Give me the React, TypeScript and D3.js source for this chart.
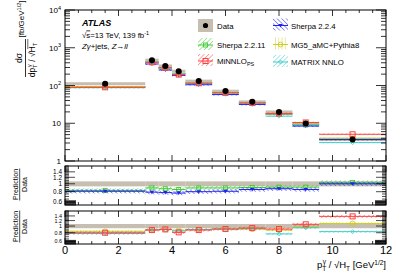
import React from 'react';
import * as d3 from 'd3';

// bin edges in pT^gamma / sqrt(HT)
const binEdges = [0, 3, 3.5, 4, 4.5, 5.5, 6.5, 7.5, 8.5, 9.5, 12];
// measured cross sections [fb/GeV^1/2]
const dataXsec = [112, 470, 330, 240, 131, 71, 37, 20, 9.9, 3.7];
const dataRelErr = [0.07, 0.07, 0.07, 0.07, 0.07, 0.07, 0.07, 0.07, 0.07, 0.07];

// prediction / data ratios
const sherpa2211Ratio = [0.83, 0.89, 0.87, 0.85, 0.89, 0.89, 0.9, 0.91, 0.91, 1.04];
const sherpa224Ratio = [0.81, 0.79, 0.78, 0.77, 0.8, 0.81, 0.85, 0.87, 0.85, 1.0];
const minnloRatio = [0.8, 0.875, 0.895, 0.81, 0.875, 0.905, 0.935, 0.905, 1.06, 1.38];
const mg5Ratio = [0.84, 0.88, 0.89, 0.87, 0.89, 0.9, 0.9, 0.875, 0.98, 1.09];
const matrixRatio = [0.78, 0.88, 0.89, 0.85, 0.89, 0.91, 0.92, 0.77, 0.945, 0.83];

const xTickLabels = [0, 2, 4, 6, 8, 10, 12];
const ratioTickLabels = [0.6, 0.8, 1, 1.2, 1.4];

const font = 'Liberation Sans, Arial, Helvetica, sans-serif';

const series = [
  { key: 'sh2211', ratio: sherpa2211Ratio, err: 0.06, color: '#3fcc33', hatch: 45, marker: 'square', panel: 1 },
  { key: 'sh224', ratio: sherpa224Ratio, err: 0.06, color: '#2020f0', hatch: -45, marker: 'tri', panel: 1 },
  { key: 'mg5', ratio: mg5Ratio, err: 0.04, color: '#cccc22', hatch: 0, marker: 'circle', panel: 2 },
  { key: 'matrix', ratio: matrixRatio, err: 0.04, color: '#44cccc', hatch: 45, marker: 'diamond', panel: 2 },
  { key: 'minnlo', ratio: minnloRatio, err: 0.05, color: '#ff4040', hatch: 45, marker: 'bigsquare', panel: 2 },
];

const x = d3.scaleLinear().domain([0, 12]).range([65, 386]);
const yMain = d3.scaleLog().domain([1, 1e4]).range([161, 10]);
const yR1 = d3.scaleLog().domain([0.55, 1.65]).range([205, 166]);
const yR2 = d3.scaleLog().domain([0.55, 1.65]).range([244, 211]);

const bins = binEdges.slice(0, -1).map((lo, i) => ({ lo, hi: binEdges[i + 1], c: (lo + binEdges[i + 1]) / 2 }));

function Marker({ type, cx, cy, color }) {
  if (type === 'square') return <rect x={cx - 2} y={cy - 2} width={4} height={4} fill="none" stroke={color} strokeWidth={0.9} />;
  if (type === 'bigsquare') return <rect x={cx - 2.5} y={cy - 2.5} width={5} height={5} fill="none" stroke={color} strokeWidth={1} />;
  if (type === 'tri') return <path d={`M${cx - 2.2},${cy - 1.5}L${cx + 2.2},${cy - 1.5}L${cx},${cy + 2}Z`} fill={color} />;
  if (type === 'circle') return <circle cx={cx} cy={cy} r={2.4} fill="none" stroke={color} strokeWidth={0.9} />;
  return <path d={`M${cx},${cy - 2}L${cx + 2},${cy}L${cx},${cy + 2}L${cx - 2},${cy}Z`} fill="none" stroke={color} strokeWidth={0.8} />;
}

function Band({ s, yScale, vals, err }) {
  return (
    <g>
      {bins.map((b, i) => (
        <rect key={'b' + i} x={x(b.lo)} width={x(b.hi) - x(b.lo)}
          y={yScale(vals[i] * (1 + err))} height={yScale(vals[i] * (1 - err)) - yScale(vals[i] * (1 + err))}
          fill={`url(#hatch-${s.key})`} />
      ))}
      {bins.map((b, i) => (
        <line key={'l' + i} x1={x(b.lo)} x2={x(b.hi)} y1={yScale(vals[i])} y2={yScale(vals[i])} stroke={s.color} strokeWidth={1} />
      ))}
      {bins.map((b, i) => (
        <Marker key={'m' + i} type={s.marker} cx={x(b.c)} cy={yScale(vals[i])} color={s.color} />
      ))}
    </g>
  );
}

function XTicks({ top, bottom }) {
  const minor = d3.range(0, 12.01, 0.5);
  return (
    <g stroke="#000" strokeWidth={0.8}>
      {minor.map(v => {
        const len = v % 2 === 0 ? 6 : 3;
        return (
          <g key={v}>
            <line x1={x(v)} x2={x(v)} y1={top} y2={top + len} />
            <line x1={x(v)} x2={x(v)} y1={bottom} y2={bottom - len} />
          </g>
        );
      })}
    </g>
  );
}

function RatioPanel({ yScale, items, labelSize }) {
  const top = yScale.range()[1];
  const bottom = yScale.range()[0];
  const dense = d3.range(0.55, 0.621, 0.01);
  const minor = d3.range(0.65, 1.651, 0.05);
  return (
    <g>
      {bins.map((b, i) => (
        <rect key={i} x={x(b.lo)} width={x(b.hi) - x(b.lo)} y={yScale(1 + dataRelErr[i])}
          height={yScale(1 - dataRelErr[i]) - yScale(1 + dataRelErr[i])} fill="#c6beb0" />
      ))}
      {items.map(s => (
        <Band key={s.key} s={s} yScale={yScale} vals={s.ratio} err={s.err} />
      ))}
      <g stroke="#000" strokeWidth={0.7}>
        {dense.map(v => (
          <g key={'d' + v}>
            <line x1={65} x2={76} y1={yScale(v)} y2={yScale(v)} />
            <line x1={386} x2={375} y1={yScale(v)} y2={yScale(v)} />
          </g>
        ))}
        {minor.map(v => (
          <g key={'n' + v}>
            <line x1={65} x2={69} y1={yScale(v)} y2={yScale(v)} />
            <line x1={386} x2={382} y1={yScale(v)} y2={yScale(v)} />
          </g>
        ))}
        {ratioTickLabels.map(v => (
          <g key={'M' + v}>
            <line x1={65} x2={75} y1={yScale(v)} y2={yScale(v)} />
            <line x1={386} x2={376} y1={yScale(v)} y2={yScale(v)} />
          </g>
        ))}
      </g>
      {ratioTickLabels.map(v => (
        <text key={'t' + v} x={62} y={yScale(v) + labelSize * 0.36} textAnchor="end" fontSize={labelSize} fontFamily={font}>{v}</text>
      ))}
      <XTicks top={top} bottom={bottom} />
      <rect x={65} y={top} width={321} height={bottom - top} fill="none" stroke="#000" strokeWidth={1} />
      <g transform={`translate(0,${(top + bottom) / 2 - 1}) rotate(-90)`} fontFamily={font} fontSize={7}>
        <text x={0} y={18} textAnchor="middle">Prediction</text>
        <line x1={-16} x2={16} y1={19.7} y2={19.7} stroke="#000" strokeWidth={0.7} />
        <text x={0} y={26.5} textAnchor="middle">Data</text>
      </g>
    </g>
  );
}

function LegendItem({ s, lx, ly, children }) {
  return (
    <g>
      <rect x={lx} y={ly - 7} width={15} height={12} fill={`url(#hatch-${s.key})`} />
      <line x1={lx} x2={lx + 15} y1={ly} y2={ly} stroke={s.color} strokeWidth={1} />
      <Marker type={s.marker} cx={lx + 7.5} cy={ly} color={s.color} />
      {children}
    </g>
  );
}

export default function App() {
  const main = series.map(s => ({ ...s, pred: dataXsec.map((d, i) => d * s.ratio[i]) }));
  const majorY = [1, 10, 100, 1000, 10000];
  const minorY = [];
  for (let e = 0; e < 4; e++) for (let k = 2; k <= 9; k++) minorY.push(k * Math.pow(10, e));
  const byKey = Object.fromEntries(series.map(s => [s.key, s]));

  return (
    <svg width={407} height={276} style={{ position: 'absolute', left: 0, top: 0, background: '#fff' }}>
      <defs>
        {series.map(s => (
          <pattern key={s.key} id={`hatch-${s.key}`} width={3.2} height={3.2} patternUnits="userSpaceOnUse" patternTransform={`rotate(${s.hatch})`}>
            <line x1={0} y1={0} x2={0} y2={3.2} stroke={s.color} strokeWidth={0.9} />
          </pattern>
        ))}
      </defs>
      <rect width={407} height={276} fill="#fff" />

      {/* main panel */}
      {bins.map((b, i) => (
        <rect key={'db' + i} x={x(b.lo)} width={x(b.hi) - x(b.lo)} y={yMain(dataXsec[i] * (1 + dataRelErr[i] * 1.3))}
          height={yMain(dataXsec[i] * (1 - dataRelErr[i] * 1.3)) - yMain(dataXsec[i] * (1 + dataRelErr[i] * 1.3))} fill="#c6beb0" />
      ))}
      {main.map(s => (
        <Band key={s.key} s={s} yScale={yMain} vals={s.pred} err={s.err} />
      ))}
      {bins.map((b, i) => (
        <circle key={'dp' + i} cx={x(b.c)} cy={yMain(dataXsec[i])} r={3} fill="#000" />
      ))}
      <g stroke="#000" strokeWidth={0.8}>
        {minorY.map(v => (
          <g key={'my' + v}>
            <line x1={65} x2={70} y1={yMain(v)} y2={yMain(v)} />
            <line x1={386} x2={381} y1={yMain(v)} y2={yMain(v)} />
          </g>
        ))}
        {majorY.map(v => (
          <g key={'My' + v}>
            <line x1={65} x2={75} y1={yMain(v)} y2={yMain(v)} />
            <line x1={386} x2={376} y1={yMain(v)} y2={yMain(v)} />
          </g>
        ))}
      </g>
      <XTicks top={10} bottom={161} />
      <rect x={65} y={10} width={321} height={151} fill="none" stroke="#000" strokeWidth={1} />
      <g fontFamily={font} fontSize={8}>
        {majorY.map((v, i) => (
          <text key={'yl' + v} x={61} y={yMain(v) + 3} textAnchor="end">
            {i === 0 ? '1' : i === 1 ? '10' : <>10<tspan fontSize={5.5} dy={-3.5}>{i}</tspan></>}
          </text>
        ))}
      </g>

      {/* y title */}
      <g fontFamily={font} fontSize={8.5}>
        <g transform="translate(0,58) rotate(-90)">
          <text x={0} y={22} textAnchor="middle">dσ</text>
          <line x1={-19} x2={19} y1={25.5} y2={25.5} stroke="#000" strokeWidth={0.8} />
          <text x={-2} y={35} textAnchor="middle">
            dp<tspan fontSize={6} dy={2}>T</tspan><tspan fontSize={6} dx={-3} dy={-6}>γ</tspan><tspan dy={4}> / √</tspan>H<tspan fontSize={6} dy={2}>T</tspan>
          </text>
          <line x1={9} x2={19} y1={27.8} y2={27.8} stroke="#000" strokeWidth={0.6} />
        </g>
        <g transform="translate(0,19) rotate(-90)">
          <text x={0} y={24} textAnchor="middle" fontSize={8}>[fb/GeV<tspan fontSize={5.5} dy={-3}>1/2</tspan><tspan dy={3}>]</tspan></text>
        </g>
      </g>

      {/* ATLAS label */}
      <g fontFamily={font}>
        <text x={82} y={26} fontSize={9} fontWeight="bold" fontStyle="italic">ATLAS</text>
        <text x={82} y={37.5} fontSize={7.8}>√<tspan textDecoration="overline">s</tspan>=13 TeV, 139 fb<tspan fontSize={5.5} dy={-3}>-1</tspan></text>
        <text x={82} y={49} fontSize={7.8}><tspan fontStyle="italic">Zγ</tspan>+jets,  <tspan fontStyle="italic">Z</tspan>→<tspan fontStyle="italic">ll</tspan></text>
      </g>

      {/* legend */}
      <g fontFamily={font} fontSize={7.8}>
        <rect x={198} y={19} width={15} height={13} fill="#c6beb0" />
        <circle cx={205.5} cy={25.5} r={2.6} fill="#000" />
        <text x={217} y={29}>Data</text>
        <LegendItem s={byKey.sh2211} lx={198} ly={45}>
          <text x={217} y={48}>Sherpa 2.2.11</text>
        </LegendItem>
        <LegendItem s={byKey.minnlo} lx={198} ly={61}>
          <text x={217} y={64}>MiNNLO<tspan fontSize={5.5} dy={2}>PS</tspan></text>
        </LegendItem>
        <LegendItem s={byKey.sh224} lx={273} ly={25.5}>
          <text x={291} y={28.5}>Sherpa 2.2.4</text>
        </LegendItem>
        <LegendItem s={byKey.mg5} lx={273} ly={44.5}>
          <text x={291} y={47.5}>MG5_aMC+Pythia8</text>
        </LegendItem>
        <LegendItem s={byKey.matrix} lx={273} ly={62}>
          <text x={291} y={65}>MATRIX NNLO</text>
        </LegendItem>
      </g>

      <RatioPanel yScale={yR1} items={series.filter(s => s.panel === 1)} labelSize={6.4} />
      <RatioPanel yScale={yR2} items={series.filter(s => s.panel === 2)} labelSize={5.4} />

      {/* x labels */}
      <g fontFamily={font} fontSize={11}>
        {xTickLabels.map(v => (
          <text key={v} x={x(v)} y={254} textAnchor="middle">{v}</text>
        ))}
      </g>
      <text x={386} y={268} textAnchor="end" fontFamily={font} fontSize={9.5}>
        p<tspan fontSize={6.5} dy={2.5}>T</tspan><tspan fontSize={6.5} dx={-3.5} dy={-7}>γ</tspan><tspan dy={4.5}> / √</tspan>H<tspan fontSize={6.5} dy={2.5}>T</tspan><tspan dy={-2.5}> [GeV</tspan><tspan fontSize={6.5} dy={-3.5}>1/2</tspan><tspan dy={3.5}>]</tspan>
      </text>
    </svg>
  );
}
